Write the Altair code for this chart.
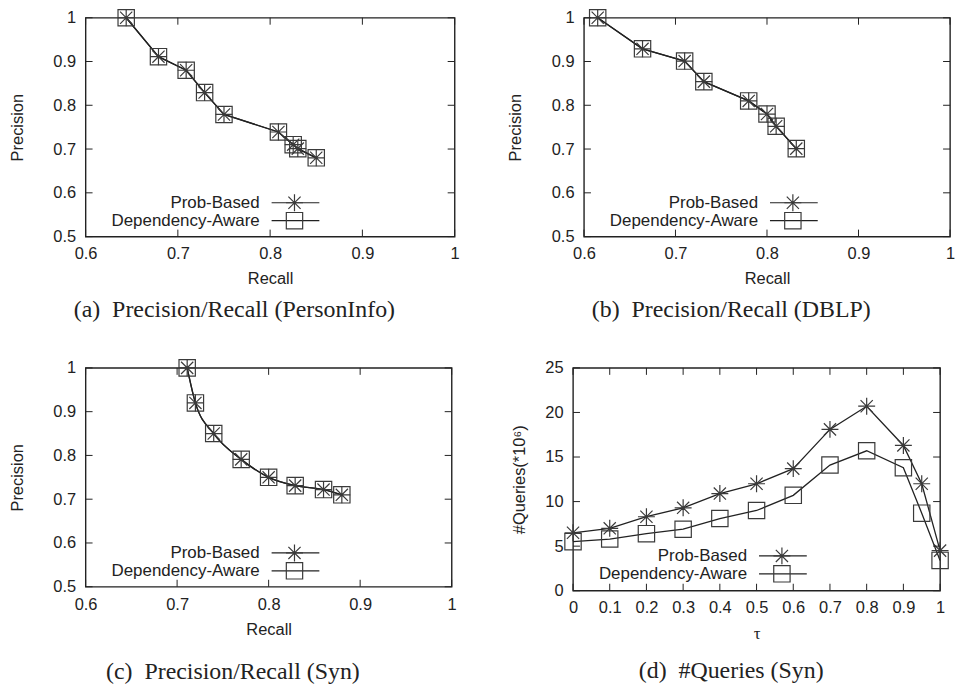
import altair as alt
import pandas as pd

SERIES = ["Prob-Based", "Dependency-Aware"]

# (a) Precision/Recall (PersonInfo)
a_recall_pb = [0.644, 0.679, 0.709, 0.729, 0.750, 0.809, 0.825, 0.830, 0.850]
a_prec_pb = [1.000, 0.911, 0.880, 0.829, 0.779, 0.739, 0.710, 0.701, 0.680]
a_recall_da = [0.644, 0.679, 0.709, 0.729, 0.750, 0.809, 0.825, 0.830, 0.850]
a_prec_da = [1.000, 0.911, 0.880, 0.829, 0.779, 0.739, 0.710, 0.701, 0.680]

# (b) Precision/Recall (DBLP)
b_recall_pb = [0.615, 0.664, 0.710, 0.731, 0.780, 0.800, 0.810, 0.832]
b_prec_pb = [1.000, 0.929, 0.901, 0.854, 0.810, 0.780, 0.752, 0.701]
b_recall_da = [0.615, 0.664, 0.710, 0.731, 0.780, 0.800, 0.810, 0.832]
b_prec_da = [1.000, 0.929, 0.901, 0.854, 0.810, 0.780, 0.752, 0.701]

# (c) Precision/Recall (Syn)
c_recall_pb = [0.711, 0.720, 0.740, 0.770, 0.800, 0.829, 0.860, 0.880]
c_prec_pb = [1.000, 0.920, 0.850, 0.791, 0.750, 0.731, 0.722, 0.710]
c_recall_da = [0.711, 0.720, 0.740, 0.770, 0.800, 0.829, 0.860, 0.880]
c_prec_da = [1.000, 0.920, 0.850, 0.791, 0.750, 0.731, 0.722, 0.710]

# (d) #Queries (Syn)
d_tau = [0.0, 0.1, 0.2, 0.3, 0.4, 0.5, 0.6, 0.7, 0.8, 0.9, 0.95, 1.0]
d_queries_pb = [6.5, 7.0, 8.3, 9.3, 10.9, 12.0, 13.7, 18.1, 20.7, 16.3, 12.0, 4.5]
d_queries_da = [5.5, 5.8, 6.4, 6.9, 8.1, 9.0, 10.7, 14.1, 15.7, 13.8, 8.7, 3.4]

# axis ticks
pr_x_ticks = [0.6, 0.7, 0.8, 0.9, 1.0]
pr_y_ticks = [0.5, 0.6, 0.7, 0.8, 0.9, 1.0]
tau_ticks = [0.0, 0.1, 0.2, 0.3, 0.4, 0.5, 0.6, 0.7, 0.8, 0.9, 1.0]
q_ticks = [0, 5, 10, 15, 20, 25]

INK = "#222222"
MARK = "#3a3a3a"
SANS = "Liberation Sans"
SERIF = "Liberation Serif"
STAR = "M-1,0L1,0M0,-1L0,1M-0.72,-0.72L0.72,0.72M-0.72,0.72L0.72,-0.72"
TICK = 7


def long_df(x_pb, y_pb, x_da, y_da):
    return pd.DataFrame({
        "x": list(x_pb) + list(x_da),
        "y": list(y_pb) + list(y_da),
        "series": [SERIES[0]] * len(x_pb) + [SERIES[1]] * len(x_da),
    })


def panel(df, xticks, yticks, xdom, ydom, w, h, xtitle, ytitle, caption,
          interp="linear", x_lp=9.5, x_tp=8.5, y_tp=27.5, cap_off=10.5,
          leg_y=(186, 204), xtitle_font=SANS, xtitle_size=16.5):
    X = alt.X("x:Q", scale=alt.Scale(domain=xdom, nice=False, zero=False, padding=0),
              axis=alt.Axis(values=xticks, format="~g", title=xtitle,
                            labelPadding=x_lp, titlePadding=x_tp, labelFlush=False,
                            labelOverlap=False,
                            titleFont=xtitle_font, titleFontSize=xtitle_size))
    Y = alt.Y("y:Q", scale=alt.Scale(domain=ydom, nice=False, zero=False, padding=0),
              axis=alt.Axis(values=yticks, format="~g", title=ytitle, labelFlush=False,
                            labelOverlap=False, labelPadding=10, titlePadding=y_tp))
    base = alt.Chart(df)
    line = base.mark_line(color=INK, strokeWidth=1.3, interpolate=interp).encode(
        x=X, y=Y, detail="series:N")
    pts_pb = base.transform_filter(alt.datum.series == SERIES[0]).mark_point(
        shape=STAR, size=290, filled=False, color=MARK, strokeWidth=1.2, opacity=1
    ).encode(x=X, y=Y)
    pts_da = base.transform_filter(alt.datum.series == SERIES[1]).mark_point(
        shape="square", size=270, filled=False, color=MARK, strokeWidth=1.2, opacity=1
    ).encode(x=X, y=Y)

    xt = pd.DataFrame({"x": xticks})
    yt = pd.DataFrame({"y": yticks})
    tb = alt.Chart(xt).mark_rule(color=INK, strokeWidth=1).encode(
        x=X, y=alt.value(h), y2=alt.value(h - TICK))
    tt = alt.Chart(xt).mark_rule(color=INK, strokeWidth=1).encode(
        x=X, y=alt.value(0), y2=alt.value(TICK))
    tl = alt.Chart(yt).mark_rule(color=INK, strokeWidth=1).encode(
        y=Y, x=alt.value(0), x2=alt.value(TICK))
    tr = alt.Chart(yt).mark_rule(color=INK, strokeWidth=1).encode(
        y=Y, x=alt.value(w), x2=alt.value(w - TICK))

    legend_layers = []
    for i, s in enumerate(SERIES):
        ld = pd.DataFrame({"t": [s]})
        ly = leg_y[i]
        legend_layers.append(alt.Chart(ld).mark_text(
            align="right", baseline="middle", font=SANS, fontSize=17, color=INK
        ).encode(x=alt.value(175), y=alt.value(ly), text="t:N"))
        legend_layers.append(alt.Chart(ld).mark_rule(color=INK, strokeWidth=1.2).encode(
            x=alt.value(187), x2=alt.value(235), y=alt.value(ly)))
        legend_layers.append(alt.Chart(ld).mark_point(
            shape=STAR if i == 0 else "square", size=290 if i == 0 else 270,
            filled=False, color=MARK, strokeWidth=1.2, opacity=1
        ).encode(x=alt.value(210), y=alt.value(ly)))

    return alt.layer(line, pts_pb, pts_da, tb, tt, tl, tr, *legend_layers).properties(
        width=w, height=h,
        title=alt.TitleParams(caption, orient="bottom", font=SERIF, fontSize=24,
                              fontWeight="normal", color=INK, offset=cap_off,
                              frame="bounds", anchor="middle"),
    )


pa = panel(long_df(a_recall_pb, a_prec_pb, a_recall_da, a_prec_da),
           pr_x_ticks, pr_y_ticks, [0.6, 1.0], [0.5, 1.0], 371, 220,
           "Recall", "Precision", "(a)\u00a0 Precision/Recall (PersonInfo)",
           leg_y=(186, 204))
pb = panel(long_df(b_recall_pb, b_prec_pb, b_recall_da, b_prec_da),
           pr_x_ticks, pr_y_ticks, [0.6, 1.0], [0.5, 1.0], 368, 220,
           "Recall", "Precision", "(b)\u00a0 Precision/Recall (DBLP)",
           leg_y=(186, 204))
pc = panel(long_df(c_recall_pb, c_prec_pb, c_recall_da, c_prec_da),
           pr_x_ticks, pr_y_ticks, [0.6, 1.0], [0.5, 1.0], 368, 220,
           "Recall", "Precision", "(c)\u00a0 Precision/Recall (Syn)",
           interp="monotone", x_lp=10, cap_off=22.5, leg_y=(186, 204))
pd_ = panel(long_df(d_tau, d_queries_pb, d_tau, d_queries_da),
            tau_ticks, q_ticks, [0.0, 1.0], [0, 25], 369, 224,
            "\u03c4", "#Queries(*10\u2076)", "(d)\u00a0 #Queries (Syn)",
            x_lp=8.5, x_tp=10.5, y_tp=17.5, cap_off=17.5, leg_y=(189, 207),
            xtitle_font=SERIF, xtitle_size=17)

row1 = alt.hconcat(pa, pb, spacing=46)
row2 = alt.hconcat(pc, pd_, spacing=53)
chart = alt.vconcat(row1, row2, spacing=33).properties(
    padding={"left": 0, "top": -4, "right": 0, "bottom": 0}
).configure_view(
    stroke=INK, strokeWidth=1.4
).configure_axis(
    labelFont=SANS, labelFontSize=16.5, labelColor=INK,
    titleFont=SANS, titleFontSize=16.5, titleFontWeight="normal", titleColor=INK,
    tickSize=0, domain=False, grid=False,
)

chart.save("out.html", embed_options={"renderer": "svg", "actions": False})
